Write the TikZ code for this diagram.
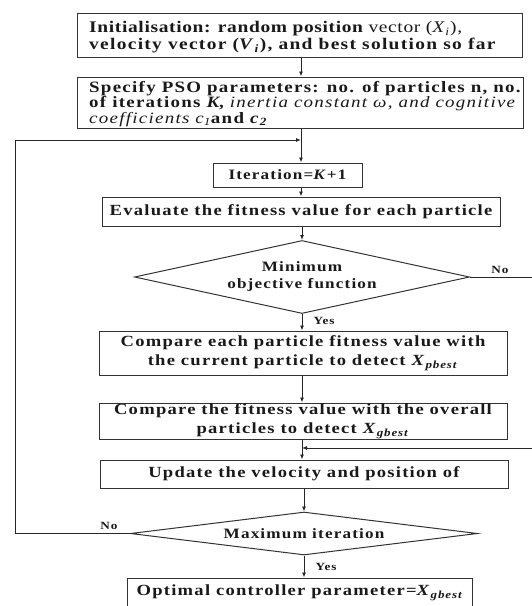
\documentclass[tikz,border=0pt]{standalone}
\usepackage{fontspec}
\setmainfont{Liberation Serif}[FakeStretch=1.2,LetterSpace=8]
\usetikzlibrary{shapes.geometric,arrows.meta}
\newcommand\vsub[2]{\textit{#1}\textsubscript{\textit{#2}}}
\begin{document}
\begin{tikzpicture}[x=1pt,y=-1pt,
  box/.style={draw=black!80,line width=1pt,inner sep=0pt,align=center,
    font=\fontsize{15.5}{19}\selectfont\bfseries,text=black!90},
  toptext/.style={inner sep=0pt,anchor=west,align=left,text=black!90},
  dia/.style={draw=black!80,line width=1pt,diamond,inner sep=0pt,align=center,
    font=\fontsize{14.3}{17}\selectfont\bfseries,text=black!90},
  arr/.style={draw=black!85,line width=0.9pt,-{Latex[length=5pt,width=4pt]}},
  lbl/.style={font=\fontsize{11}{12}\selectfont\bfseries,text=black!90,inner sep=0pt}]
\useasboundingbox (0,0) rectangle (531,606);
\coordinate (sp) at (301,0);
\node[box,minimum width=445pt,minimum height=44pt] (b1) at (300,35) {};
\node[toptext,font=\fontsize{16.2}{16.8}\selectfont\bfseries] (b1t) at (89,37.5)
  {{\addfontfeatures{LetterSpace=4}Initialisation: random position {\mdseries vector (\vsub{X}{i}),}}\\
   velocity vector (\vsub{V}{i}), and best solution so far};
\node[box,minimum width=446pt,minimum height=51pt] (b2) at (300,102.5) {};
\node[toptext,font=\fontsize{15.8}{15.5}\selectfont\bfseries] (b2t) at (89,104)
  {Specify PSO parameters: no. of particles n, no.\\
   of iterations \textit{K}, {\mdseries\itshape inertia constant ω, and cognitive}\\
   {\mdseries\itshape coefficients c\textsubscript{1}}and \vsub{c}{2}};
\node[box,minimum width=149pt,minimum height=24pt,font=\fontsize{14.3}{17}\selectfont\bfseries] (it) at (287.5,175)
  {Iteration=\textit{K}+1};
\node[box,minimum width=398pt,minimum height=29pt] (ev) at (301,211.5)
  {Evaluate the fitness value for each particle};
\node[dia,minimum width=335pt,minimum height=73pt,shape aspect=4.59] (d1) at (302,277)
  {Minimum\\objective function};
\node[box,minimum width=408pt,minimum height=44pt] (c1) at (303,353)
  {Compare each particle fitness value with\\
   the current particle to detect \vsub{X}{pbest}};
\node[box,minimum width=408pt,minimum height=36pt] (c2) at (303,421)
  {Compare the fitness value with the overall\\
   particles to detect \vsub{X}{gbest}};
\node[box,minimum width=408pt,minimum height=28pt] (up) at (304,474)
  {Update the velocity and position of};
\node[dia,minimum width=347pt,minimum height=43pt,shape aspect=8.07] (d2) at (304,533.5)
  {Maximum iteration};
\node[box,minimum width=345pt,minimum height=30pt] (op) at (300,593)
  {Optimal controller parameter=\vsub{X}{gbest}};
\coordinate (lt) at (15,140);
\coordinate (rt) at (540,277);
\coordinate (jn) at (302,448);
\draw[arr] (b1.south -| sp) -- (b2.north -| sp);
\draw[arr] (b2.south -| sp) -- (it.north -| sp);
\draw[arr] (it.south -| sp) -- (ev.north -| sp);
\draw[arr] (ev.south -| d1.north) -- (d1.north);
\draw[arr] (d1.south) -- (c1.north -| d1.south);
\draw[arr] (c1.south -| jn) -- (c2.north -| jn);
\draw[arr] (c2.south -| jn) -- (up.north -| jn);
\draw[arr] (up.south -| d2.north) -- (d2.north);
\draw[arr] (d2.south) -- (op.north -| d2.south);
\draw[arr] (d2.west) -- (d2.west -| lt) -- (lt) -- (lt -| sp);
\draw[arr] (d1.east) -- (rt) -- (rt |- jn) -- (jn);
\node[lbl] (n1) at (500,270) {No};
\node[lbl] (n2) at (109,526) {No};
\node[lbl] (y1) at (324,321) {Yes};
\node[lbl] (y2) at (326,567) {Yes};
\end{tikzpicture}
\end{document}
